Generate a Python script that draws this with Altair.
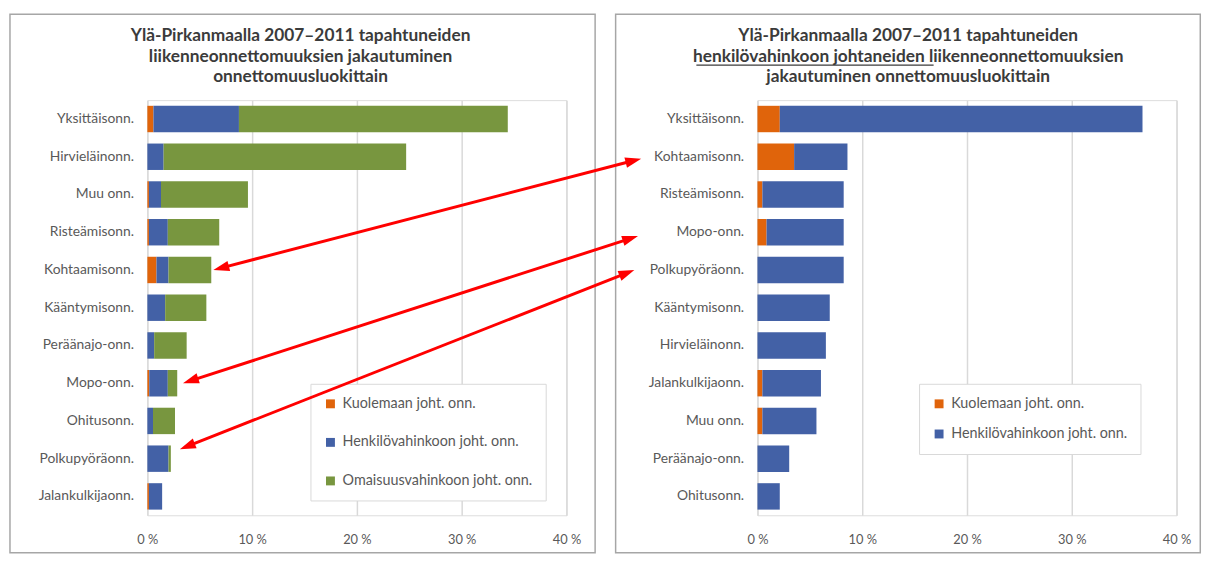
import math
import altair as alt
import pandas as pd

# ---------------- data ----------------
SERIES = ["Kuolemaan joht. onn.", "Henkilövahinkoon joht. onn.", "Omaisuusvahinkoon joht. onn."]
COLORS = ["#E0640B", "#4361A6", "#78963F"]

CATS_L = ["Yksittäisonn.", "Hirvieläinonn.", "Muu onn.", "Risteämisonn.", "Kohtaamisonn.",
          "Kääntymisonn.", "Peräänajo-onn.", "Mopo-onn.", "Ohitusonn.", "Polkupyöräonn.",
          "Jalankulkijaonn."]
KUOL_L = [0.58, 0.0, 0.15, 0.15, 0.87, 0.0, 0.0, 0.18, 0.0, 0.0, 0.15]
HENK_L = [8.16, 1.55, 1.15, 1.80, 1.15, 1.70, 0.65, 1.77, 0.54, 2.02, 1.26]
OMAI_L = [25.66, 23.15, 8.30, 4.91, 4.08, 3.93, 3.10, 0.90, 2.10, 0.22, 0.0]

CATS_R = ["Yksittäisonn.", "Kohtaamisonn.", "Risteämisonn.", "Mopo-onn.", "Polkupyöräonn.",
          "Kääntymisonn.", "Hirvieläinonn.", "Jalankulkijaonn.", "Muu onn.", "Peräänajo-onn.",
          "Ohitusonn."]
KUOL_R = [2.13, 3.50, 0.47, 0.87, 0.0, 0.0, 0.0, 0.47, 0.47, 0.0, 0.0]
HENK_R = [34.62, 5.09, 7.76, 7.36, 8.23, 6.90, 6.53, 5.59, 5.16, 3.03, 2.13]

TICKS = [0, 10, 20, 30, 40]

TITLE_L = ["Ylä-Pirkanmaalla 2007–2011 tapahtuneiden",
           "liikenneonnettomuuksien jakautuminen",
           "onnettomuusluokittain"]
TITLE_R = ["Ylä-Pirkanmaalla 2007–2011 tapahtuneiden",
           "henkilövahinkoon johtaneiden liikenneonnettomuuksien",
           "jakautuminen onnettomuusluokittain"]

# arrows: tip on the left panel (value %, row) <-> tip at the right panel's label (value %, row)
ARROW_L_X = [6.3, 3.4, 3.1]
ARROW_L_ROW = [4.5, 7.5, 9.25]
ARROW_R_X = [-11.1, -11.4, -11.75]
ARROW_R_ROW = [1.55, 3.6, 4.5]

# ---------------- layout / style ----------------
W, H = 424, 420
SPACING = 193.25
PPX = W / 40.0
PPR = H / 11.0
OFFSET = (W + SPACING) / PPX  # left-panel % -> right-panel %
FONT = "Lato"
TXT = "#595959"
TTL = "#3B3B3B"
GRID = "#D9D9D9"
FRAME = "#A6A6A6"
RED = "#FF0000"
HEAD_SIZE = 289
HEAD_PATH = "M0,-1L0.62,0.9L-0.62,0.9Z"


def long_df(cats, cols):
    rows = []
    for i, c in enumerate(cats):
        for k, vals in enumerate(cols):
            rows.append({"cat": c, "series": SERIES[k], "value": vals[i], "ord": k})
    return pd.DataFrame(rows)


one = pd.DataFrame({"a": [0]})


def bars(df, cats, n_series, legend):
    return alt.Chart(df).mark_bar().encode(
        y=alt.Y("cat:N", sort=cats,
                scale=alt.Scale(paddingInner=0.3, paddingOuter=0.15),
                axis=alt.Axis(title=None, ticks=False, domain=False, labelPadding=14,
                              labelFontSize=14, labelColor=TXT, labelFont=FONT)),
        x=alt.X("value:Q", stack="zero",
                scale=alt.Scale(domain=[0, 40], nice=False, zero=True),
                axis=alt.Axis(values=TICKS, title=None, labelExpr="datum.value + ' %'",
                              grid=True, gridColor=GRID, gridWidth=1.5, ticks=False,
                              domain=False, labelPadding=19, labelFontSize=13,
                              labelFlush=False, labelColor=TXT, labelFont=FONT)),
        color=alt.Color("series:N",
                        scale=alt.Scale(domain=SERIES[:n_series], range=COLORS[:n_series]),
                        legend=legend),
        order=alt.Order("ord:Q"),
    )


def frame(x1, x2):
    return alt.Chart(one).mark_rect(fillOpacity=0, stroke=FRAME, strokeWidth=1.5).encode(
        x=alt.value(x1), x2=alt.value(x2), y=alt.value(-87), y2=alt.value(458))


def title(lines, cx):
    return alt.Chart(one).mark_text(font=FONT, fontSize=17.5, fontWeight="bold", color=TTL,
                                    align="center", baseline="alphabetic",
                                    lineHeight=21).encode(
        x=alt.value(cx), y=alt.value(-60), text=alt.value(lines))


def legend(x, y, row_pad, pad):
    return alt.Legend(orient="none", legendX=x, legendY=y, title=None, symbolType="square",
                      symbolSize=81, symbolStrokeWidth=0, labelFontSize=14.5, labelColor=TXT,
                      labelFont=FONT, labelLimit=400, rowPadding=row_pad, padding=pad,
                      strokeColor=GRID, fillColor="white", labelOffset=5)


df_l = long_df(CATS_L, [KUOL_L, HENK_L, OMAI_L])
df_r = long_df(CATS_R, [KUOL_R, HENK_R])

left = alt.layer(
    frame(-139, 453),
    title(TITLE_L, 155),
    bars(df_l, CATS_L, 3, legend(165, 287, 24, 13)),
).properties(width=W, height=H)

# arrows (drawn in the right panel so they sit on top of the left legend)
rule_rows, head_rows = [], []
R = math.sqrt(HEAD_SIZE) / 2.0
for xl, yl, xr, yr in zip(ARROW_L_X, ARROW_L_ROW, ARROW_R_X, ARROW_R_ROW):
    xl_r = xl - OFFSET
    pts = []
    for (tx, ty), (ox, oy) in (((xl_r, yl), (xr, yr)), ((xr, yr), (xl_r, yl))):
        dx = (tx - ox) * PPX
        dy = (ty - oy) * PPR
        n = math.hypot(dx, dy)
        ux, uy = dx / n, dy / n
        cx = tx - ux * R / PPX
        cy = ty - uy * R / PPR
        ang = math.degrees(math.atan2(dx, -dy)) % 360
        head_rows.append({"x": cx, "row": cy, "ang": ang})
        pts.append((cx, cy))
    rule_rows.append({"x": pts[0][0], "row": pts[0][1], "x2": pts[1][0], "row2": pts[1][1]})

yq = alt.Y("row:Q", scale=alt.Scale(domain=[0, 11], reverse=True, nice=False, zero=False),
           axis=None)
arrows = alt.Chart(pd.DataFrame(rule_rows)).mark_rule(color=RED, strokeWidth=3).encode(
    x="x:Q", x2="x2:Q", y=yq, y2="row2:Q")
heads = alt.Chart(pd.DataFrame(head_rows)).mark_point(
    shape=HEAD_PATH, filled=True, color=RED, opacity=1, size=HEAD_SIZE, strokeWidth=0
).encode(x="x:Q", y=yq, angle=alt.Angle("ang:Q", scale=None))

underline = alt.Chart(one).mark_rule(color=TTL, strokeWidth=1.2).encode(
    x=alt.value(-61.8), x2=alt.value(178.2), y=alt.value(-35.5), y2=alt.value(-35.5))

right = alt.layer(
    frame(-143.5, 448),
    title(TITLE_R, 152.5),
    underline,
    bars(df_r, CATS_R, 2, legend(163.5, 287, 15.5, 13)),
    arrows,
    heads,
).resolve_scale(y="independent").properties(width=W, height=H)

chart = alt.hconcat(left, right, spacing=SPACING, bounds="flush").resolve_scale(
    color="independent").resolve_legend(color="independent").properties(
    padding={"left": 0, "top": 1, "right": 0, "bottom": 0}
).configure_view(stroke=None).configure(font=FONT)

chart.save("out.html", embed_options={"renderer": "svg", "actions": False})
